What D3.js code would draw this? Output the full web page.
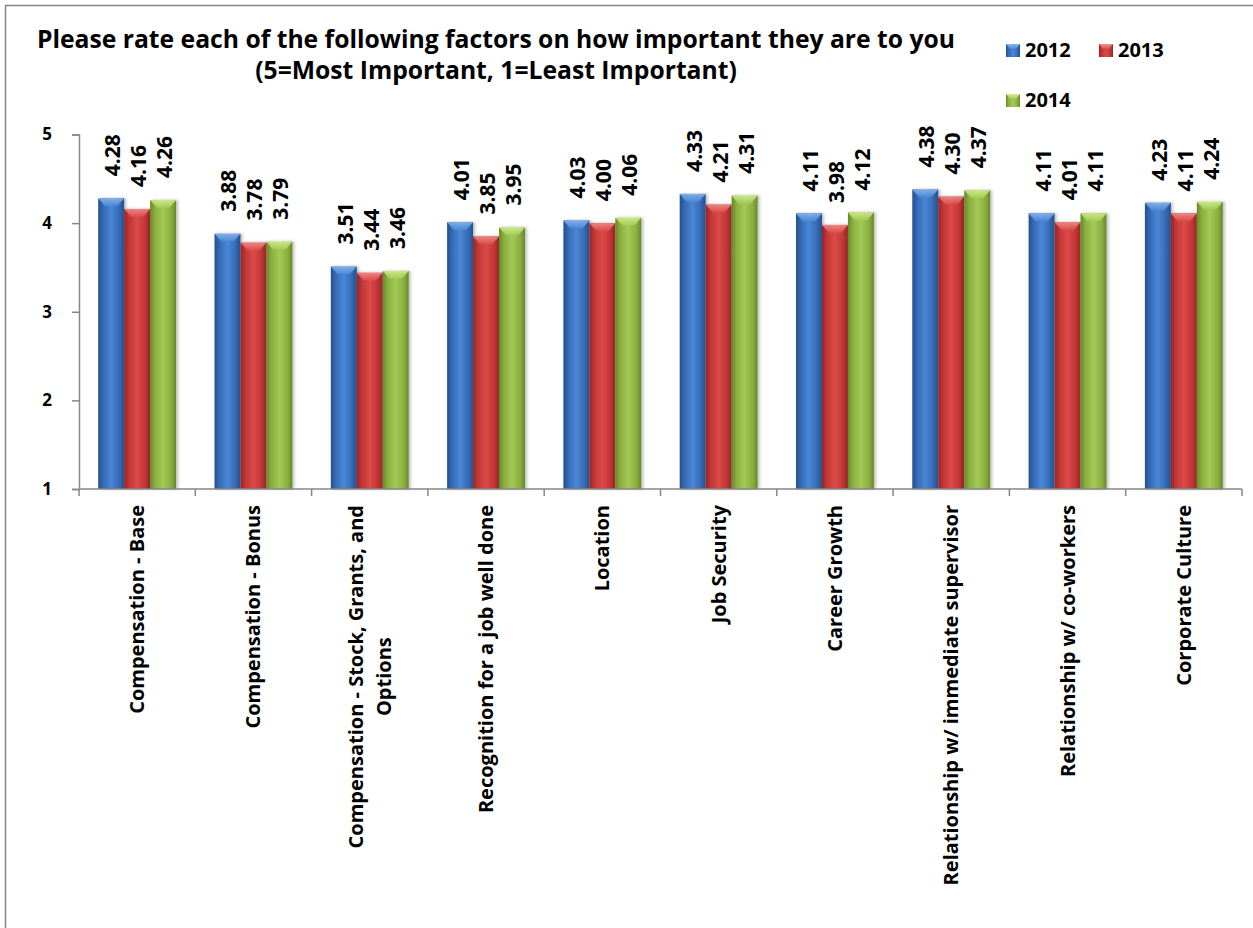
<!DOCTYPE html>
<html>
<head>
<meta charset="utf-8">
<script src="https://cdn.jsdelivr.net/npm/d3@7"></script>
<style>
  body { margin: 0; background: #fff; }
  svg text { font-family: "Open Sans", sans-serif; font-weight: bold; fill: #000; }
</style>
</head>
<body>
<div id="chart"></div>
<script>
// categories and values
const categories = [
  "Compensation - Base",
  "Compensation - Bonus",
  "Compensation - Stock, Grants, and\nOptions",
  "Recognition for a job well done",
  "Location",
  "Job Security",
  "Career Growth",
  "Relationship w/ immediate supervisor",
  "Relationship w/ co-workers",
  "Corporate Culture"
];
const years = ["2012", "2013", "2014"];
const values2012 = [4.28, 3.88, 3.51, 4.01, 4.03, 4.33, 4.11, 4.38, 4.11, 4.23];
const values2013 = [4.16, 3.78, 3.44, 3.85, 4.00, 4.21, 3.98, 4.30, 4.01, 4.11];
const values2014 = [4.26, 3.79, 3.46, 3.95, 4.06, 4.31, 4.12, 4.37, 4.11, 4.24];
const yTicks = [1, 2, 3, 4, 5];
const titleLines = [
  "Please rate each of the following factors on how important they are to you",
  "(5=Most Important, 1=Least Important)"
];

const series = [values2012, values2013, values2014];
const colors = {
  "2012": { dark: "#24508c", mid: "#3469b4", light: "#4a87d6", top: "#8cb8ee" },
  "2013": { dark: "#932626", mid: "#bf3535", light: "#dc4a48", top: "#f09390" },
  "2014": { dark: "#67872a", mid: "#8aae3e", light: "#a3c956", top: "#d4ef8e" }
};

const W = 1253, H = 928;
const svg = d3.select("#chart").append("svg")
  .attr("width", W)
  .attr("height", H);

// outer frame
svg.append("rect")
  .attr("x", 5.5).attr("y", 5.5)
  .attr("width", W + 20).attr("height", H + 20)
  .attr("fill", "none")
  .attr("stroke", "#868686")
  .attr("stroke-width", 1.5);

// gradients + soft shadow
const defs = svg.append("defs");
const shadow = defs.append("filter").attr("id", "shadow")
  .attr("x", "-20%").attr("y", "-5%").attr("width", "150%").attr("height", "110%");
shadow.append("feDropShadow")
  .attr("dx", 2).attr("dy", 0).attr("stdDeviation", 1.5)
  .attr("flood-color", "#000").attr("flood-opacity", 0.25);

years.forEach(yr => {
  const c = colors[yr];
  const g = defs.append("linearGradient")
    .attr("id", "grad" + yr)
    .attr("x1", "0%").attr("x2", "100%").attr("y1", "0%").attr("y2", "0%");
  [[0, c.dark], [0.18, c.mid], [0.5, c.light], [0.82, c.mid], [1, c.dark]].forEach(s => {
    g.append("stop").attr("offset", s[0]).attr("stop-color", s[1]);
  });
  const t = defs.append("linearGradient")
    .attr("id", "top" + yr)
    .attr("x1", "0%").attr("x2", "0%").attr("y1", "0%").attr("y2", "100%");
  t.append("stop").attr("offset", 0).attr("stop-color", c.top);
  t.append("stop").attr("offset", 1).attr("stop-color", c.light);
});

// scales
const x = d3.scaleBand()
  .domain(categories)
  .range([79, 1242])
  .padding(0);

const x1 = d3.scaleBand()
  .domain(years)
  .range([0, x.bandwidth()])
  .paddingInner(0)
  .paddingOuter(0.74);

const y = d3.scaleLinear()
  .domain([1, 5])
  .range([489, 134.5]);

// Y axis
const yAxis = svg.append("g")
  .attr("transform", "translate(79,0)")
  .call(d3.axisLeft(y).tickValues(yTicks).tickSize(7).tickPadding(20).tickFormat(d3.format("d")));
yAxis.select(".domain").attr("stroke", "#868686").attr("stroke-width", 1.5);
yAxis.selectAll(".tick line").attr("stroke", "#868686").attr("stroke-width", 1.5);
yAxis.selectAll("text")
  .style("font-size", "17px")
  .style("font-family", "'Open Sans', sans-serif")
  .style("font-weight", "bold")
  .attr("fill", "#000");

// bars
const rows = [];
categories.forEach((cat, i) => {
  years.forEach((yr, j) => {
    rows.push({ cat: cat, year: yr, value: series[j][i] });
  });
});

const barG = svg.append("g");
const bars = barG.selectAll("g.bar")
  .data(rows)
  .join("g")
  .attr("class", "bar")
  .attr("filter", "url(#shadow)");

bars.append("rect")
  .attr("x", d => x(d.cat) + x1(d.year))
  .attr("y", d => y(d.value))
  .attr("width", x1.bandwidth())
  .attr("height", d => y(1) - y(d.value))
  .attr("fill", d => "url(#grad" + d.year + ")");

// bevel on bar top
bars.append("path")
  .attr("d", d => {
    const x0 = x(d.cat) + x1(d.year), x2 = x0 + x1.bandwidth();
    const t = y(d.value);
    return `M${x0},${t}L${x2},${t}L${x2 - 7},${t + 8}L${x0 + 7},${t + 8}Z`;
  })
  .attr("fill", d => "url(#top" + d.year + ")")
  .attr("opacity", 0.85);

// value labels
svg.selectAll("text.val")
  .data(rows)
  .join("text")
  .attr("class", "val")
  .attr("transform", d => `translate(${x(d.cat) + x1(d.year) + x1.bandwidth() / 2 + 1},${y(d.value) - 22}) rotate(-90)`)
  .attr("text-anchor", "start")
  .attr("dominant-baseline", "central")
  .style("font-size", "21px")
  .text(d => d.value.toFixed(2));

// X axis line and ticks between categories
svg.append("line")
  .attr("x1", 79).attr("x2", 1242)
  .attr("y1", y(1)).attr("y2", y(1))
  .attr("stroke", "#868686").attr("stroke-width", 1.5);
const edges = categories.map(c => x(c)).concat([x.range()[1]]);
svg.selectAll("line.xtick")
  .data(edges)
  .join("line")
  .attr("class", "xtick")
  .attr("x1", d => d).attr("x2", d => d)
  .attr("y1", y(1)).attr("y2", y(1) + 7)
  .attr("stroke", "#868686").attr("stroke-width", 1.5);

// category labels (rotated, centered block under the axis)
const lineGap = 28;
categories.forEach(cat => {
  const lines = cat.split("\n");
  const g = svg.append("g");
  const t = g.append("text")
    .attr("text-anchor", "middle")
    .style("font-size", "20px");
  lines.forEach((ln, k) => {
    t.append("tspan")
      .attr("x", 0)
      .attr("y", (k - (lines.length - 1) / 2) * lineGap)
      .attr("dy", "0.35em")
      .text(ln);
  });
  let maxLen = 0;
  t.selectAll("tspan").each(function () {
    maxLen = Math.max(maxLen, this.getComputedTextLength());
  });
  g.attr("transform", `translate(${x(cat) + x.bandwidth() / 2},${505 + maxLen / 2}) rotate(-90)`);
});

// title
svg.selectAll("text.title")
  .data(titleLines)
  .join("text")
  .attr("class", "title")
  .attr("x", 496)
  .attr("y", (d, i) => 48 + i * 31)
  .attr("text-anchor", "middle")
  .style("font-size", "24.7px")
  .text(d => d);

// legend
const legendPos = [[1006, 44], [1099, 44], [1006, 94]];
const leg = svg.selectAll("g.legend")
  .data(years)
  .join("g")
  .attr("class", "legend")
  .attr("transform", (d, i) => `translate(${legendPos[i][0]},${legendPos[i][1]})`);
leg.append("rect")
  .attr("width", 14).attr("height", 13)
  .attr("fill", d => "url(#grad" + d + ")");
leg.append("path")
  .attr("d", "M0,0L14,0L10,5L4,5Z")
  .attr("fill", d => "url(#top" + d + ")");
leg.append("text")
  .attr("x", 19)
  .attr("y", 13)
  .style("font-size", "20px")
  .text(d => d);
</script>
</body>
</html>
